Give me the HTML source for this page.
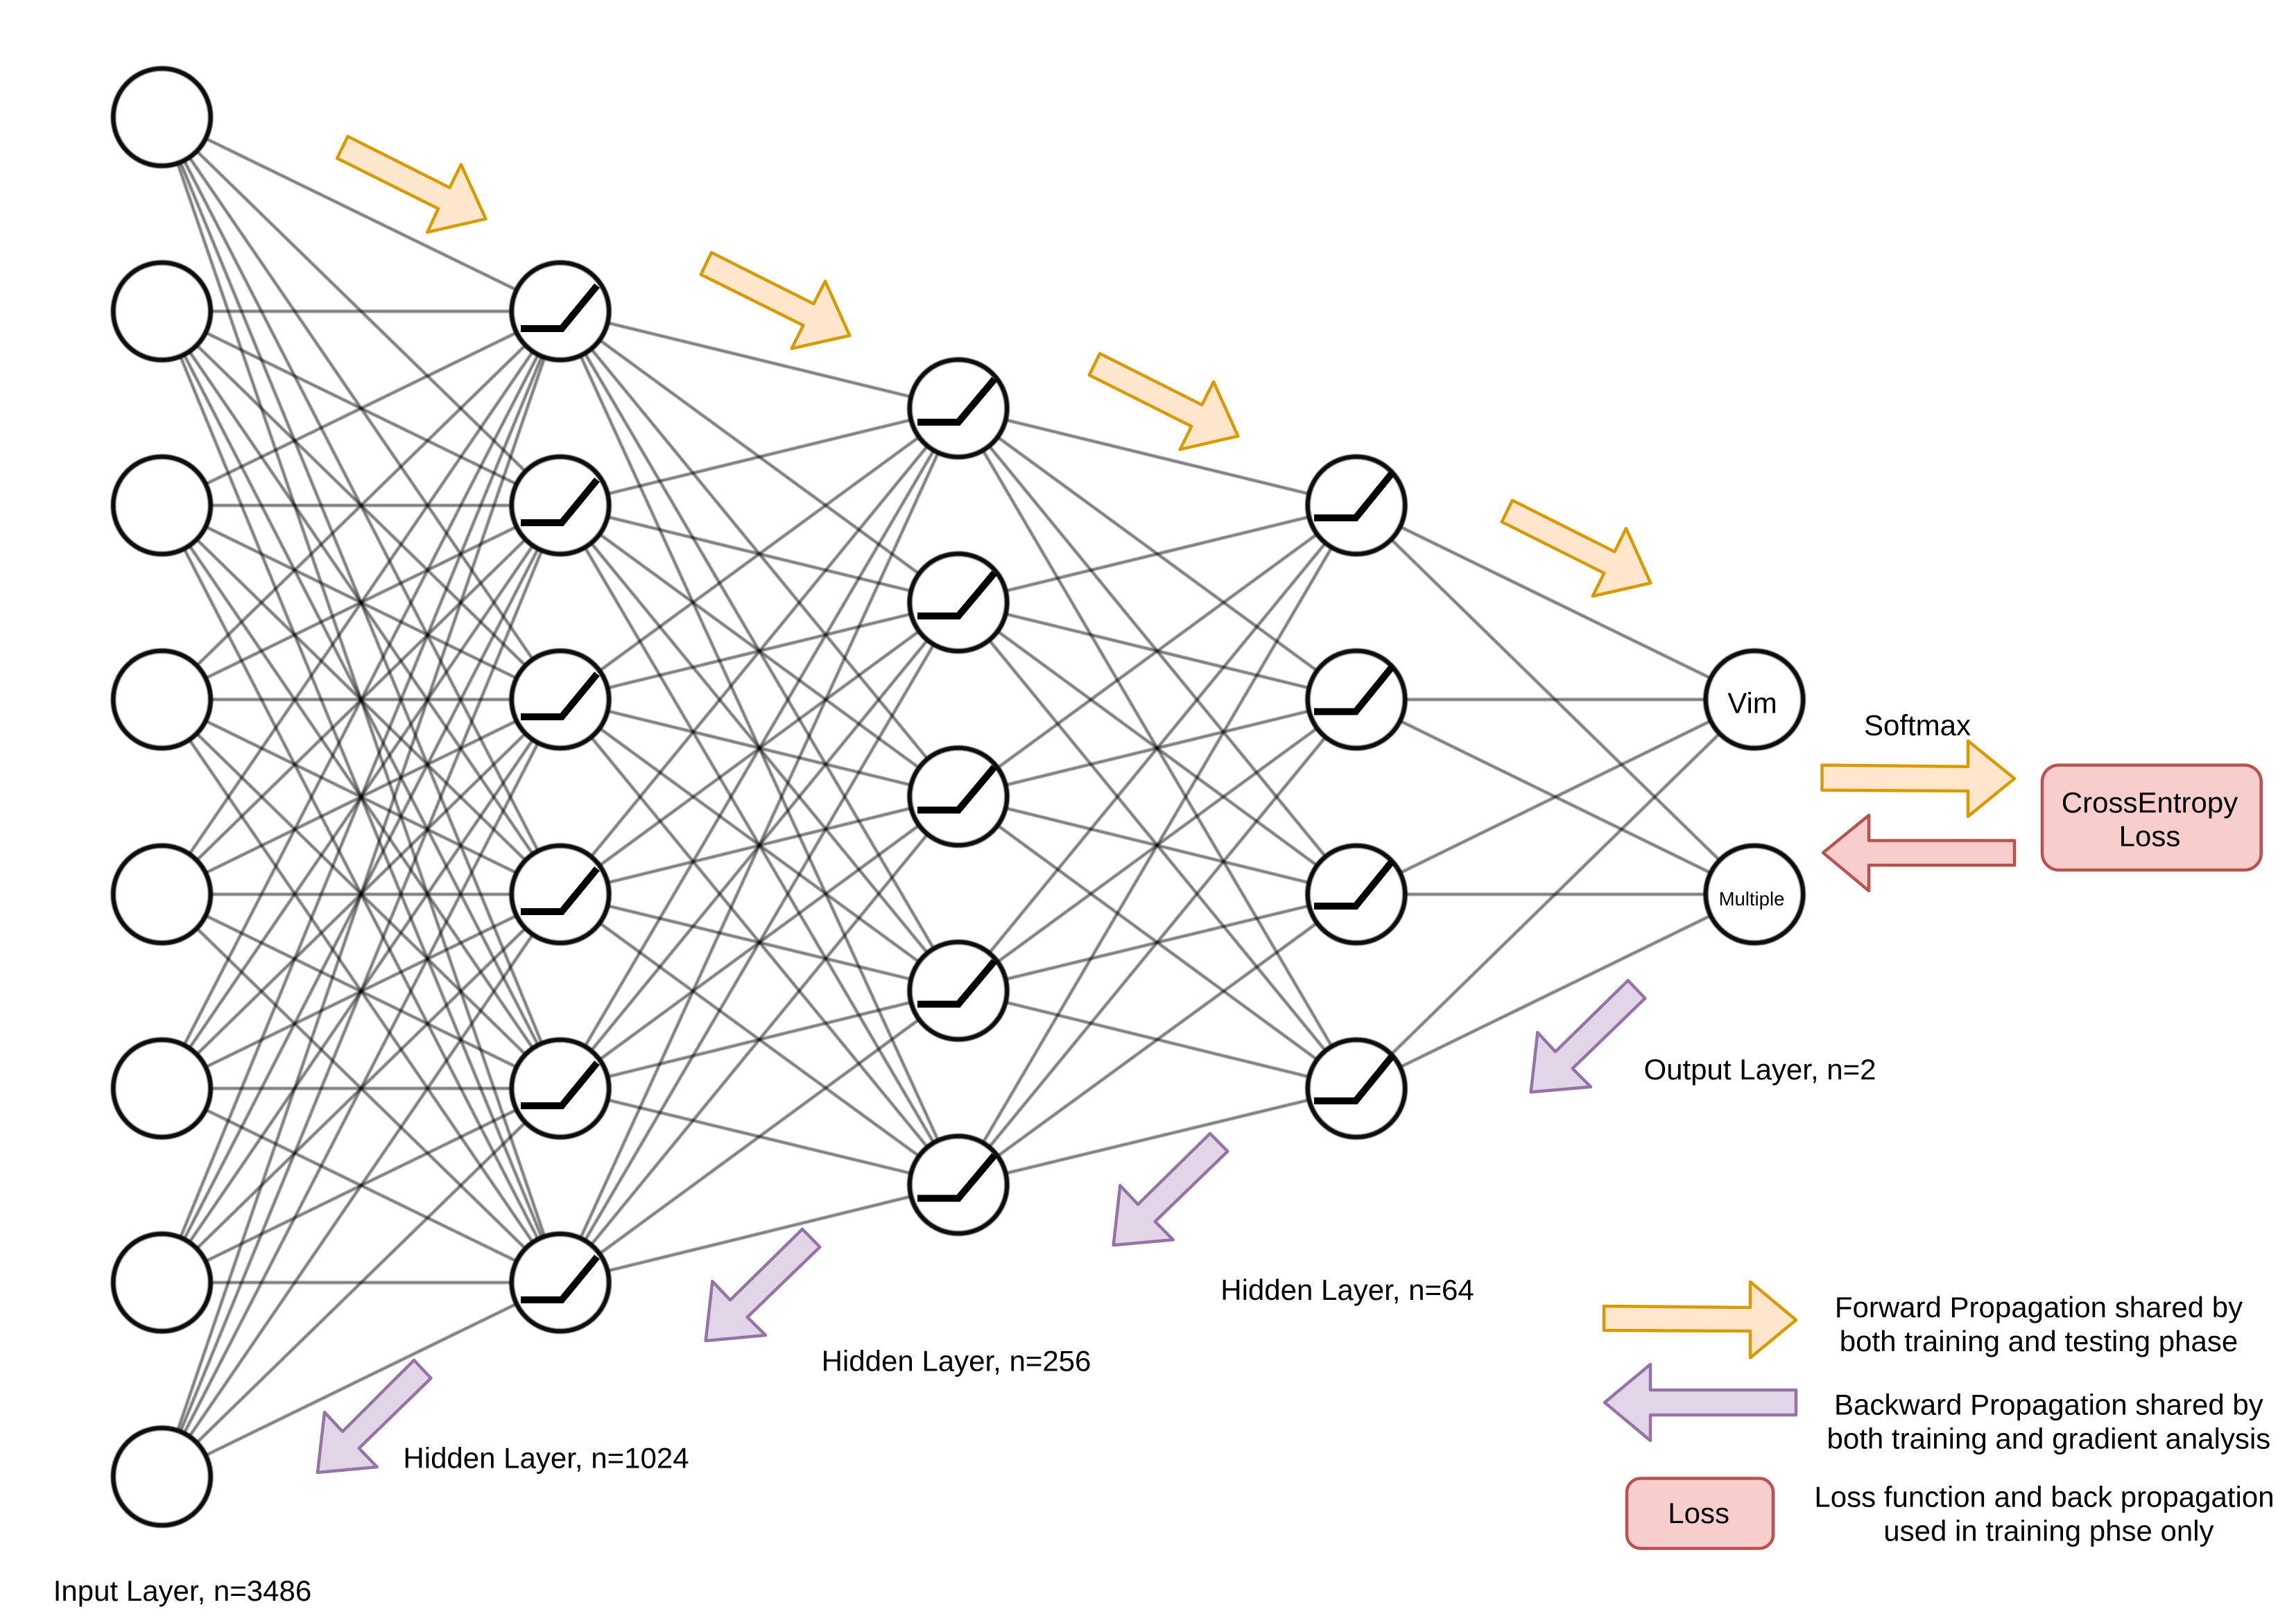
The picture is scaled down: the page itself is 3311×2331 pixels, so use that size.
<!DOCTYPE html>
<html><head><meta charset="utf-8"><style>html,body{margin:0;padding:0;background:#fff}svg{display:block}text{font-family:"Liberation Sans",Arial,sans-serif;font-size:42px;text-anchor:middle;fill:#000}</style></head><body>
<svg xmlns="http://www.w3.org/2000/svg" width="3311" height="2331" viewBox="0 0 3311 2331">
<defs><filter id="b" x="-5%" y="-5%" width="110%" height="110%"><feGaussianBlur stdDeviation="0.9"/></filter></defs>
<rect width="3311" height="2331" fill="#fff"/>
<g filter="url(#b)" transform="translate(0,1)">
<g stroke="#000" stroke-opacity=".5" stroke-width="4.5" fill="none">
<path d="M233.5 168L808 448"/><path d="M233.5 168L808 728"/><path d="M233.5 168L808 1008"/><path d="M233.5 168L808 1289"/><path d="M233.5 168L808 1569"/><path d="M233.5 168L808 1849"/>
<path d="M233.5 448L808 448"/><path d="M233.5 448L808 728"/><path d="M233.5 448L808 1008"/><path d="M233.5 448L808 1289"/><path d="M233.5 448L808 1569"/><path d="M233.5 448L808 1849"/>
<path d="M233.5 728L808 448"/><path d="M233.5 728L808 728"/><path d="M233.5 728L808 1008"/><path d="M233.5 728L808 1289"/><path d="M233.5 728L808 1569"/><path d="M233.5 728L808 1849"/>
<path d="M233.5 1008L808 448"/><path d="M233.5 1008L808 728"/><path d="M233.5 1008L808 1008"/><path d="M233.5 1008L808 1289"/><path d="M233.5 1008L808 1569"/><path d="M233.5 1008L808 1849"/>
<path d="M233.5 1289L808 448"/><path d="M233.5 1289L808 728"/><path d="M233.5 1289L808 1008"/><path d="M233.5 1289L808 1289"/><path d="M233.5 1289L808 1569"/><path d="M233.5 1289L808 1849"/>
<path d="M233.5 1569L808 448"/><path d="M233.5 1569L808 728"/><path d="M233.5 1569L808 1008"/><path d="M233.5 1569L808 1289"/><path d="M233.5 1569L808 1569"/><path d="M233.5 1569L808 1849"/>
<path d="M233.5 1849L808 448"/><path d="M233.5 1849L808 728"/><path d="M233.5 1849L808 1008"/><path d="M233.5 1849L808 1289"/><path d="M233.5 1849L808 1569"/><path d="M233.5 1849L808 1849"/>
<path d="M233.5 2129L808 448"/><path d="M233.5 2129L808 728"/><path d="M233.5 2129L808 1008"/><path d="M233.5 2129L808 1289"/><path d="M233.5 2129L808 1569"/><path d="M233.5 2129L808 1849"/>
<path d="M808 448L1382 588"/><path d="M808 448L1382 868"/><path d="M808 448L1382 1148"/><path d="M808 448L1382 1428"/><path d="M808 448L1382 1708"/>
<path d="M808 728L1382 588"/><path d="M808 728L1382 868"/><path d="M808 728L1382 1148"/><path d="M808 728L1382 1428"/><path d="M808 728L1382 1708"/>
<path d="M808 1008L1382 588"/><path d="M808 1008L1382 868"/><path d="M808 1008L1382 1148"/><path d="M808 1008L1382 1428"/><path d="M808 1008L1382 1708"/>
<path d="M808 1289L1382 588"/><path d="M808 1289L1382 868"/><path d="M808 1289L1382 1148"/><path d="M808 1289L1382 1428"/><path d="M808 1289L1382 1708"/>
<path d="M808 1569L1382 588"/><path d="M808 1569L1382 868"/><path d="M808 1569L1382 1148"/><path d="M808 1569L1382 1428"/><path d="M808 1569L1382 1708"/>
<path d="M808 1849L1382 588"/><path d="M808 1849L1382 868"/><path d="M808 1849L1382 1148"/><path d="M808 1849L1382 1428"/><path d="M808 1849L1382 1708"/>
<path d="M1382 588L1956 728"/><path d="M1382 588L1956 1008"/><path d="M1382 588L1956 1289"/><path d="M1382 588L1956 1569"/>
<path d="M1382 868L1956 728"/><path d="M1382 868L1956 1008"/><path d="M1382 868L1956 1289"/><path d="M1382 868L1956 1569"/>
<path d="M1382 1148L1956 728"/><path d="M1382 1148L1956 1008"/><path d="M1382 1148L1956 1289"/><path d="M1382 1148L1956 1569"/>
<path d="M1382 1428L1956 728"/><path d="M1382 1428L1956 1008"/><path d="M1382 1428L1956 1289"/><path d="M1382 1428L1956 1569"/>
<path d="M1382 1708L1956 728"/><path d="M1382 1708L1956 1008"/><path d="M1382 1708L1956 1289"/><path d="M1382 1708L1956 1569"/>
<path d="M1956 728L2530 1008"/><path d="M1956 728L2530 1289"/>
<path d="M1956 1008L2530 1008"/><path d="M1956 1008L2530 1289"/>
<path d="M1956 1289L2530 1008"/><path d="M1956 1289L2530 1289"/>
<path d="M1956 1569L2530 1008"/><path d="M1956 1569L2530 1289"/>
</g>
<g fill="#fff" stroke="#111" stroke-width="7.5">
<circle cx="233.5" cy="168" r="70"/><circle cx="233.5" cy="448" r="70"/><circle cx="233.5" cy="728" r="70"/><circle cx="233.5" cy="1008" r="70"/><circle cx="233.5" cy="1289" r="70"/><circle cx="233.5" cy="1569" r="70"/><circle cx="233.5" cy="1849" r="70"/><circle cx="233.5" cy="2129" r="70"/>
<circle cx="808" cy="448" r="70"/><circle cx="808" cy="728" r="70"/><circle cx="808" cy="1008" r="70"/><circle cx="808" cy="1289" r="70"/><circle cx="808" cy="1569" r="70"/><circle cx="808" cy="1849" r="70"/>
<circle cx="1382" cy="588" r="70"/><circle cx="1382" cy="868" r="70"/><circle cx="1382" cy="1148" r="70"/><circle cx="1382" cy="1428" r="70"/><circle cx="1382" cy="1708" r="70"/>
<circle cx="1956" cy="728" r="70"/><circle cx="1956" cy="1008" r="70"/><circle cx="1956" cy="1289" r="70"/><circle cx="1956" cy="1569" r="70"/>
<circle cx="2530" cy="1008" r="70"/><circle cx="2530" cy="1289" r="70"/>
</g>
</g>
<g fill="none" stroke="#000" stroke-width="10">
<path d="M751 474H810L861 412"/><path d="M751 754H810L861 692"/><path d="M751 1034H810L861 972"/><path d="M751 1315H810L861 1253"/><path d="M751 1595H810L861 1533"/><path d="M751 1875H810L861 1813"/>
<path d="M1323 609H1382L1434 547"/><path d="M1323 888.500H1382L1434 826.500"/><path d="M1323 1168.500H1382L1434 1106.500"/><path d="M1323 1448.500H1382L1434 1386.500"/><path d="M1323 1728.500H1382L1434 1666.500"/>
<path d="M1895 747H1955L2007 683"/><path d="M1895 1026.500H1955L2007 962.500"/><path d="M1895 1307H1955L2007 1243"/><path d="M1895 1588H1955L2007 1524"/>
</g>
<g fill="#ffe6cc" stroke="#d79b00" stroke-width="4.5" stroke-linejoin="round">
<path d="M501.5 196.7L486.2 228.3L632 301L616.3 335L700.5 315.7L664.8 237.3L648.5 270.7Z"/>
<path d="M1026 364.3L1010.7 396L1158.3 469.3L1141.7 502.7L1225.3 484L1190 405.7L1173.3 438.3Z"/>
<path d="M1586 510L1570.7 541L1718.3 615L1701.7 648.3L1785.3 629L1750 550.7L1733.3 584Z"/>
<path d="M2181 721.7L2165.7 752.7L2313.3 826.7L2296.7 860L2380.3 841L2345 762.3L2328.3 795.7Z"/>
<path d="M2627.5 1103.6L2838 1105.8V1068.8L2905 1123L2838 1177.7V1141L2627.5 1139.7Z"/>
<path d="M2313 1884L2524 1886V1849L2590 1904L2524 1958.5V1920L2313 1919Z"/>
</g>
<g fill="#e1d5e7" stroke="#9673a6" stroke-width="4.5" stroke-linejoin="round">
<path d="M2347.7 1414.3L2372.3 1440L2267.7 1541.3L2294 1567.7L2207.7 1575.3L2217.3 1489.3L2243 1517Z"/>
<path d="M1745 1635L1770.3 1660.7L1665.7 1762L1691.7 1788.3L1605.7 1796L1615.3 1710L1641 1737.3Z"/>
<path d="M1157 1773L1182.3 1798.7L1077.7 1900L1104 1926L1017.7 1934L1027.3 1848.3L1053 1875.3Z"/>
<path d="M597 1962L621.5 1988L517.7 2089L543.7 2116L458 2124L468 2037L494 2065Z"/>
<path d="M2590 2005H2380V1968L2314 2023L2380 2078V2041H2590Z"/>
</g>
<g fill="#f8cecc" stroke="#b85450" stroke-width="4.5" stroke-linejoin="round">
<path d="M2905 1212.5H2695V1176L2629 1230L2695 1285V1248H2905Z"/>
<rect x="2945" y="1103.6" width="315.7" height="151.4" rx="24"/>
<rect x="2346" y="2132.5" width="211" height="101" rx="20"/>
</g>
<text x="2527" y="1028.6">Vim</text>
<text x="2526" y="1306" style="font-size:27.5px">Multiple</text>
<text x="2765" y="1060.7">Softmax</text>
<text x="3100" y="1172">CrossEntropy</text>
<text x="3100" y="1220.5">Loss</text>
<text x="2538" y="1557">Output Layer, n=2</text>
<text x="1943" y="1875">Hidden Layer, n=64</text>
<text x="1379" y="1977.7">Hidden Layer, n=256</text>
<text x="787.5" y="2117.5">Hidden Layer, n=1024</text>
<text x="263" y="2309">Input Layer, n=3486</text>
<text x="2940" y="1900">Forward Propagation shared by</text>
<text x="2940" y="1949">both training and testing phase</text>
<text x="2954.4" y="2040.4">Backward Propagation shared by</text>
<text x="2954.4" y="2089.5">both training and gradient analysis</text>
<text x="2449.6" y="2197">Loss</text>
<text x="2948" y="2173.5">Loss function and back propagation</text>
<text x="2954.4" y="2222.6">used in training phse only</text>
</svg>
</body></html>
